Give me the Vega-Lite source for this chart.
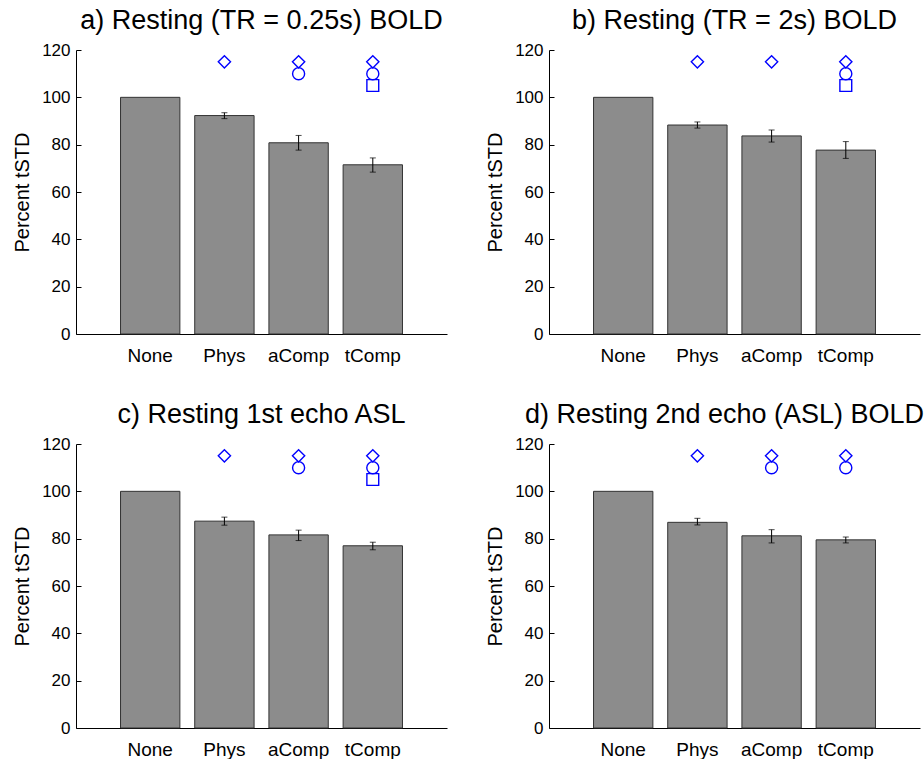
{
  "$schema": "https://vega.github.io/schema/vega-lite/v6.json",
  "background": "white",
  "padding": {"left": 12, "top": 7, "right": 2, "bottom": 0},
  "bounds": "flush",
  "columns": 2,
  "spacing": {"column": 102, "row": 110},
  "datasets": {
    "bars": [
      {"panel": "a", "cond": "None", "value": 100, "lo": null, "hi": null},
      {"panel": "a", "cond": "Phys", "value": 92.3, "lo": 91.0, "hi": 93.5},
      {"panel": "a", "cond": "aComp", "value": 80.8, "lo": 77.7, "hi": 83.9},
      {"panel": "a", "cond": "tComp", "value": 71.5, "lo": 68.4, "hi": 74.4},
      {"panel": "b", "cond": "None", "value": 100, "lo": null, "hi": null},
      {"panel": "b", "cond": "Phys", "value": 88.3, "lo": 87.0, "hi": 89.6},
      {"panel": "b", "cond": "aComp", "value": 83.7, "lo": 81.1, "hi": 86.2},
      {"panel": "b", "cond": "tComp", "value": 77.7, "lo": 74.2, "hi": 81.3},
      {"panel": "c", "cond": "None", "value": 100, "lo": null, "hi": null},
      {"panel": "c", "cond": "Phys", "value": 87.4, "lo": 85.7, "hi": 89.1},
      {"panel": "c", "cond": "aComp", "value": 81.6, "lo": 79.2, "hi": 83.6},
      {"panel": "c", "cond": "tComp", "value": 77.0, "lo": 75.3, "hi": 78.5},
      {"panel": "d", "cond": "None", "value": 100, "lo": null, "hi": null},
      {"panel": "d", "cond": "Phys", "value": 86.9, "lo": 85.8, "hi": 88.6},
      {"panel": "d", "cond": "aComp", "value": 81.2, "lo": 78.2, "hi": 83.8},
      {"panel": "d", "cond": "tComp", "value": 79.5, "lo": 78.2, "hi": 80.7}
    ],
    "marks": [
      {"panel": "a", "cond": "Phys", "y": 115, "marker": "diamond"},
      {"panel": "a", "cond": "aComp", "y": 115, "marker": "diamond"},
      {"panel": "a", "cond": "aComp", "y": 110, "marker": "circle"},
      {"panel": "a", "cond": "tComp", "y": 115, "marker": "diamond"},
      {"panel": "a", "cond": "tComp", "y": 110, "marker": "circle"},
      {"panel": "a", "cond": "tComp", "y": 105, "marker": "square"},
      {"panel": "b", "cond": "Phys", "y": 115, "marker": "diamond"},
      {"panel": "b", "cond": "aComp", "y": 115, "marker": "diamond"},
      {"panel": "b", "cond": "tComp", "y": 115, "marker": "diamond"},
      {"panel": "b", "cond": "tComp", "y": 110, "marker": "circle"},
      {"panel": "b", "cond": "tComp", "y": 105, "marker": "square"},
      {"panel": "c", "cond": "Phys", "y": 115, "marker": "diamond"},
      {"panel": "c", "cond": "aComp", "y": 115, "marker": "diamond"},
      {"panel": "c", "cond": "aComp", "y": 110, "marker": "circle"},
      {"panel": "c", "cond": "tComp", "y": 115, "marker": "diamond"},
      {"panel": "c", "cond": "tComp", "y": 110, "marker": "circle"},
      {"panel": "c", "cond": "tComp", "y": 105, "marker": "square"},
      {"panel": "d", "cond": "Phys", "y": 115, "marker": "diamond"},
      {"panel": "d", "cond": "aComp", "y": 115, "marker": "diamond"},
      {"panel": "d", "cond": "aComp", "y": 110, "marker": "circle"},
      {"panel": "d", "cond": "tComp", "y": 115, "marker": "diamond"},
      {"panel": "d", "cond": "tComp", "y": 110, "marker": "circle"}
    ]
  },
  "concat": [
    {
      "title": {"text": "a) Resting (TR = 0.25s) BOLD"},
      "width": 371, "height": 284,
      "encoding": {"x": {"field": "cond", "type": "nominal", "sort": ["None", "Phys", "aComp", "tComp"], "scale": {"paddingInner": 0.2, "paddingOuter": 0.6}, "title": null}},
      "layer": [
        {"data": {"name": "bars"}, "transform": [{"filter": "datum.panel == 'a'"}], "mark": {"type": "bar", "fill": "#8c8c8c", "stroke": "#333333", "strokeWidth": 1}, "encoding": {"y": {"field": "value", "type": "quantitative", "scale": {"domain": [0, 120]}, "title": "Percent tSTD"}}},
        {"data": {"name": "bars"}, "transform": [{"filter": "datum.panel == 'a' && datum.lo != null"}], "mark": {"type": "rule", "color": "#000000", "strokeWidth": 1}, "encoding": {"y": {"field": "lo", "type": "quantitative", "title": "Percent tSTD"}, "y2": {"field": "hi"}}},
        {"data": {"name": "bars"}, "transform": [{"filter": "datum.panel == 'a' && datum.lo != null"}, {"fold": ["lo", "hi"], "as": ["end", "ev"]}], "mark": {"type": "tick", "color": "#000000", "orient": "horizontal", "size": 6, "thickness": 1}, "encoding": {"y": {"field": "ev", "type": "quantitative", "title": "Percent tSTD"}}},
        {"data": {"name": "marks"}, "transform": [{"filter": "datum.panel == 'a'"}], "mark": {"type": "point", "filled": false, "color": "#0000ff", "strokeWidth": 1.4, "opacity": 1}, "encoding": {"y": {"field": "y", "type": "quantitative", "title": "Percent tSTD"}, "shape": {"field": "marker", "type": "nominal", "scale": {"domain": ["diamond", "circle", "square"], "range": ["diamond", "circle", "square"]}, "legend": null}, "size": {"field": "marker", "type": "ordinal", "scale": {"domain": ["diamond", "circle", "square"], "range": [150, 140, 90]}, "legend": null}}}
      ]
    },
    {
      "title": {"text": "b) Resting (TR = 2s) BOLD"},
      "width": 371, "height": 284,
      "encoding": {"x": {"field": "cond", "type": "nominal", "sort": ["None", "Phys", "aComp", "tComp"], "scale": {"paddingInner": 0.2, "paddingOuter": 0.6}, "title": null}},
      "layer": [
        {"data": {"name": "bars"}, "transform": [{"filter": "datum.panel == 'b'"}], "mark": {"type": "bar", "fill": "#8c8c8c", "stroke": "#333333", "strokeWidth": 1}, "encoding": {"y": {"field": "value", "type": "quantitative", "scale": {"domain": [0, 120]}, "title": "Percent tSTD"}}},
        {"data": {"name": "bars"}, "transform": [{"filter": "datum.panel == 'b' && datum.lo != null"}], "mark": {"type": "rule", "color": "#000000", "strokeWidth": 1}, "encoding": {"y": {"field": "lo", "type": "quantitative", "title": "Percent tSTD"}, "y2": {"field": "hi"}}},
        {"data": {"name": "bars"}, "transform": [{"filter": "datum.panel == 'b' && datum.lo != null"}, {"fold": ["lo", "hi"], "as": ["end", "ev"]}], "mark": {"type": "tick", "color": "#000000", "orient": "horizontal", "size": 6, "thickness": 1}, "encoding": {"y": {"field": "ev", "type": "quantitative", "title": "Percent tSTD"}}},
        {"data": {"name": "marks"}, "transform": [{"filter": "datum.panel == 'b'"}], "mark": {"type": "point", "filled": false, "color": "#0000ff", "strokeWidth": 1.4, "opacity": 1}, "encoding": {"y": {"field": "y", "type": "quantitative", "title": "Percent tSTD"}, "shape": {"field": "marker", "type": "nominal", "scale": {"domain": ["diamond", "circle", "square"], "range": ["diamond", "circle", "square"]}, "legend": null}, "size": {"field": "marker", "type": "ordinal", "scale": {"domain": ["diamond", "circle", "square"], "range": [150, 140, 90]}, "legend": null}}}
      ]
    },
    {
      "title": {"text": "c) Resting 1st echo ASL"},
      "width": 371, "height": 284,
      "encoding": {"x": {"field": "cond", "type": "nominal", "sort": ["None", "Phys", "aComp", "tComp"], "scale": {"paddingInner": 0.2, "paddingOuter": 0.6}, "title": null}},
      "layer": [
        {"data": {"name": "bars"}, "transform": [{"filter": "datum.panel == 'c'"}], "mark": {"type": "bar", "fill": "#8c8c8c", "stroke": "#333333", "strokeWidth": 1}, "encoding": {"y": {"field": "value", "type": "quantitative", "scale": {"domain": [0, 120]}, "title": "Percent tSTD"}}},
        {"data": {"name": "bars"}, "transform": [{"filter": "datum.panel == 'c' && datum.lo != null"}], "mark": {"type": "rule", "color": "#000000", "strokeWidth": 1}, "encoding": {"y": {"field": "lo", "type": "quantitative", "title": "Percent tSTD"}, "y2": {"field": "hi"}}},
        {"data": {"name": "bars"}, "transform": [{"filter": "datum.panel == 'c' && datum.lo != null"}, {"fold": ["lo", "hi"], "as": ["end", "ev"]}], "mark": {"type": "tick", "color": "#000000", "orient": "horizontal", "size": 6, "thickness": 1}, "encoding": {"y": {"field": "ev", "type": "quantitative", "title": "Percent tSTD"}}},
        {"data": {"name": "marks"}, "transform": [{"filter": "datum.panel == 'c'"}], "mark": {"type": "point", "filled": false, "color": "#0000ff", "strokeWidth": 1.4, "opacity": 1}, "encoding": {"y": {"field": "y", "type": "quantitative", "title": "Percent tSTD"}, "shape": {"field": "marker", "type": "nominal", "scale": {"domain": ["diamond", "circle", "square"], "range": ["diamond", "circle", "square"]}, "legend": null}, "size": {"field": "marker", "type": "ordinal", "scale": {"domain": ["diamond", "circle", "square"], "range": [150, 140, 90]}, "legend": null}}}
      ]
    },
    {
      "title": {"text": "d) Resting 2nd echo (ASL) BOLD", "dx": -10},
      "width": 371, "height": 284,
      "encoding": {"x": {"field": "cond", "type": "nominal", "sort": ["None", "Phys", "aComp", "tComp"], "scale": {"paddingInner": 0.2, "paddingOuter": 0.6}, "title": null}},
      "layer": [
        {"data": {"name": "bars"}, "transform": [{"filter": "datum.panel == 'd'"}], "mark": {"type": "bar", "fill": "#8c8c8c", "stroke": "#333333", "strokeWidth": 1}, "encoding": {"y": {"field": "value", "type": "quantitative", "scale": {"domain": [0, 120]}, "title": "Percent tSTD"}}},
        {"data": {"name": "bars"}, "transform": [{"filter": "datum.panel == 'd' && datum.lo != null"}], "mark": {"type": "rule", "color": "#000000", "strokeWidth": 1}, "encoding": {"y": {"field": "lo", "type": "quantitative", "title": "Percent tSTD"}, "y2": {"field": "hi"}}},
        {"data": {"name": "bars"}, "transform": [{"filter": "datum.panel == 'd' && datum.lo != null"}, {"fold": ["lo", "hi"], "as": ["end", "ev"]}], "mark": {"type": "tick", "color": "#000000", "orient": "horizontal", "size": 6, "thickness": 1}, "encoding": {"y": {"field": "ev", "type": "quantitative", "title": "Percent tSTD"}}},
        {"data": {"name": "marks"}, "transform": [{"filter": "datum.panel == 'd'"}], "mark": {"type": "point", "filled": false, "color": "#0000ff", "strokeWidth": 1.4, "opacity": 1}, "encoding": {"y": {"field": "y", "type": "quantitative", "title": "Percent tSTD"}, "shape": {"field": "marker", "type": "nominal", "scale": {"domain": ["diamond", "circle", "square"], "range": ["diamond", "circle", "square"]}, "legend": null}, "size": {"field": "marker", "type": "ordinal", "scale": {"domain": ["diamond", "circle", "square"], "range": [150, 140, 90]}, "legend": null}}}
      ]
    }
  ],
  "config": {
    "font": "Liberation Sans",
    "view": {"stroke": null},
    "title": {"fontSize": 27, "fontWeight": "normal", "color": "#000000", "frame": "group", "anchor": "middle", "baseline": "alphabetic", "offset": 6},
    "axis": {"grid": false, "domainColor": "#000000", "domainWidth": 1, "tickColor": "#000000", "labelColor": "#000000", "titleColor": "#000000", "titleFontWeight": "normal"},
    "axisX": {"ticks": false, "labelAngle": 0, "labelFontSize": 19, "labelPadding": 12},
    "axisY": {"values": [0, 20, 40, 60, 80, 100, 120], "tickSize": -5, "labelPadding": 11, "labelFontSize": 17, "titleFontSize": 20, "titlePadding": 9}
  }
}
